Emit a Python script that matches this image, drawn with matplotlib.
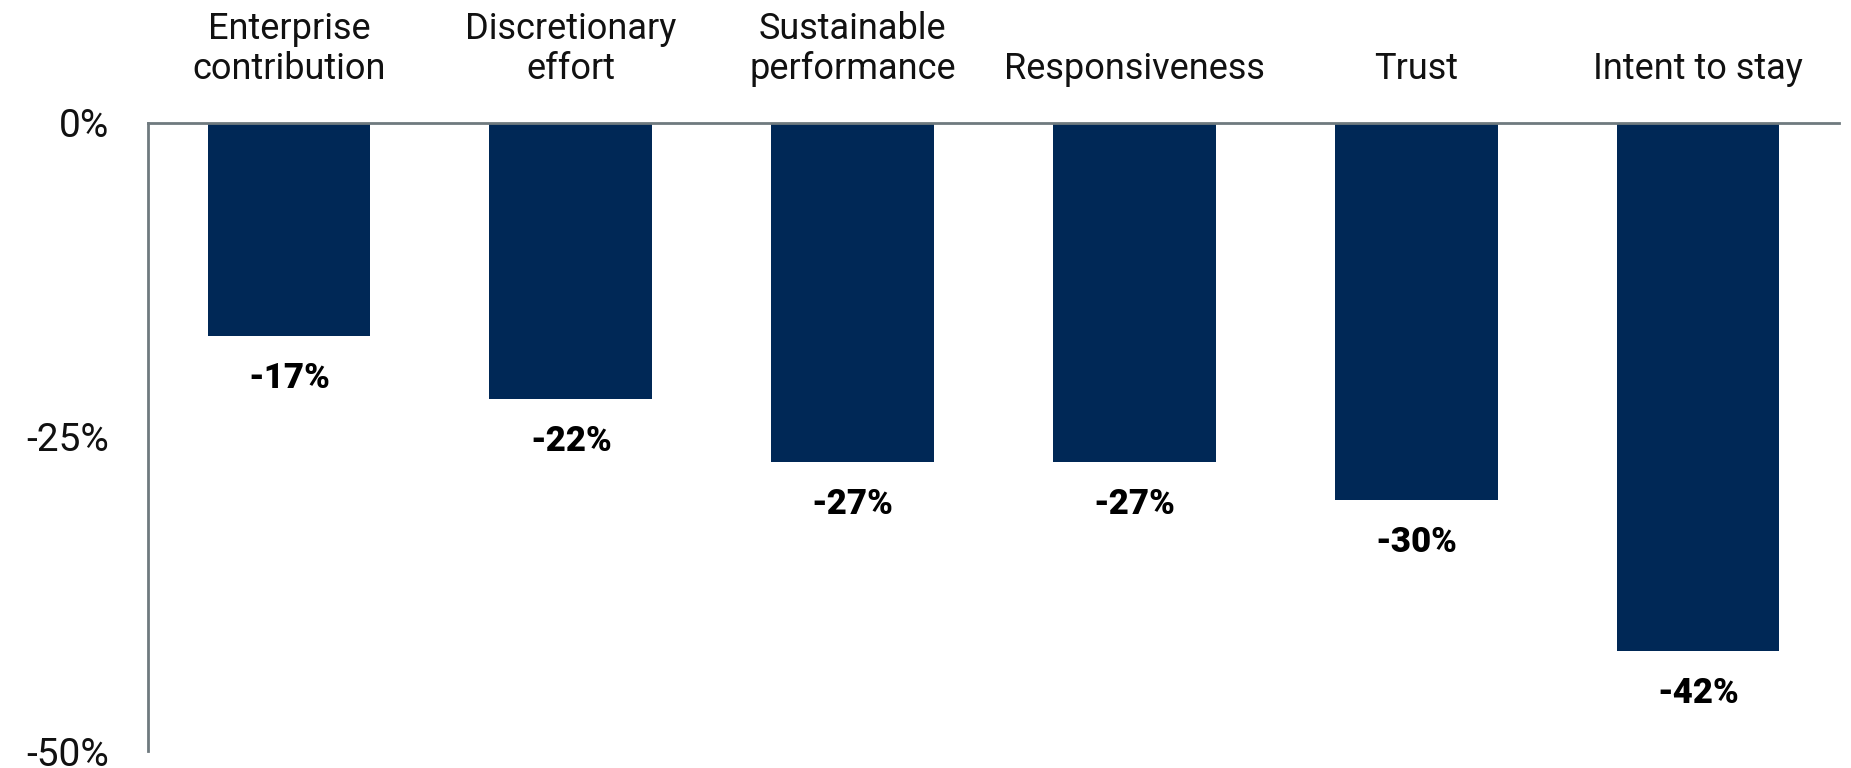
import matplotlib
matplotlib.use("Agg")
import matplotlib.pyplot as plt
from matplotlib.ticker import FuncFormatter

categories = ["Enterprise\ncontribution", "Discretionary\neffort", "Sustainable\nperformance",
              "Responsiveness", "Trust", "Intent to stay"]
values = [-17, -22, -27, -27, -30, -42]
yticks = [0, -25, -50]

plt.rcParams['font.family'] = ['Roboto', 'DejaVu Sans']

fig = plt.figure(figsize=(18.51, 7.68), dpi=100)
ax = fig.add_axes([0.080, 0.022, 0.9135, 0.818])

bar_color = '#002856'
spine_color = '#6f7a7f'
x = list(range(len(categories)))
ax.bar(x, values, width=0.577, color=bar_color, zorder=2)

ax.set_xlim(-0.5, len(categories) - 0.5)
ax.set_ylim(-50, 0)
ax.set_yticks(yticks)
ax.yaxis.set_major_formatter(FuncFormatter(lambda v, p: f"{int(v)}%"))
ax.tick_params(axis='y', length=0, pad=28, labelsize=28, labelcolor='#111111')
ax.set_xticks([])

for s in ['right', 'bottom']:
    ax.spines[s].set_visible(False)
for s in ['left', 'top']:
    ax.spines[s].set_color(spine_color)
    ax.spines[s].set_linewidth(2)

for xi, cat in zip(x, categories):
    ax.annotate(cat, xy=(xi, 1), xycoords=('data', 'axes fraction'),
                xytext=(0, 36), textcoords='offset pixels',
                ha='center', va='bottom', multialignment='center',
                fontsize=26, color='#111111', linespacing=1.15)

for xi, v in zip(x, values):
    ax.annotate(f"{v}%", xy=(xi, v), xycoords='data',
                xytext=(0, -52), textcoords='offset pixels',
                ha='center', va='baseline', fontsize=25, fontweight=900, color='black')

fig.savefig('out.png', dpi=100)
